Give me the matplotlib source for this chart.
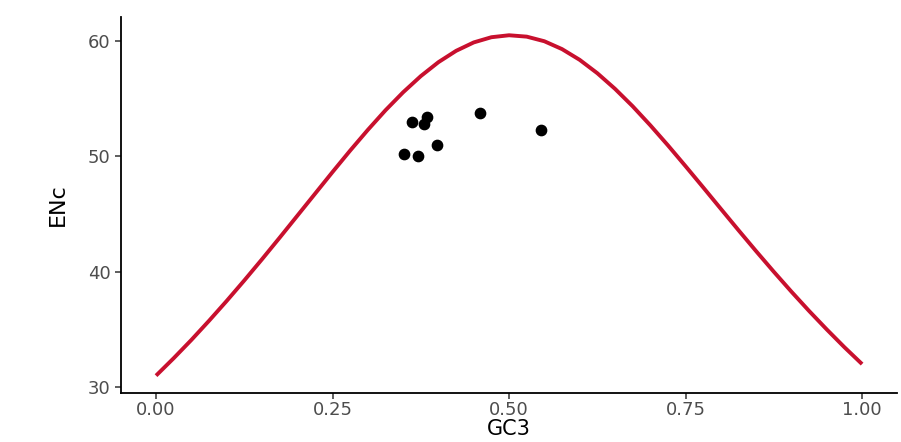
import matplotlib
matplotlib.use("Agg")
from matplotlib import pyplot as plt

# expected ENc curve, values at GC3 steps of 0.025
curve_gc3 = [0.000, 0.025, 0.050, 0.075, 0.100, 0.125, 0.150, 0.175, 0.200, 0.225,
             0.250, 0.275, 0.300, 0.325, 0.350, 0.375, 0.400, 0.425, 0.450, 0.475,
             0.500, 0.525, 0.550, 0.575, 0.600, 0.625, 0.650, 0.675, 0.700, 0.725,
             0.750, 0.775, 0.800, 0.825, 0.850, 0.875, 0.900, 0.925, 0.950, 0.975, 1.000]
curve_enc = [31.0, 32.51, 34.09, 35.75, 37.47, 39.25, 41.08, 42.95, 44.85, 46.75,
             48.65, 50.51, 52.3, 54.0, 55.56, 56.96, 58.17, 59.15, 59.88, 60.33,
             60.5, 60.38, 59.98, 59.3, 58.37, 57.21, 55.86, 54.35, 52.7, 50.96,
             49.15, 47.31, 45.45, 43.6, 41.78, 40.0, 38.27, 36.6, 35.0, 33.46, 32.0]

# observed genes
gc3 = [0.363, 0.384, 0.380, 0.459, 0.545, 0.398, 0.351, 0.371]
enc = [52.97, 53.4, 52.8, 53.75, 52.3, 51.0, 50.2, 50.06]

x_ticks = [0.00, 0.25, 0.50, 0.75, 1.00]
x_labels = ["0.00", "0.25", "0.50", "0.75", "1.00"]
y_ticks = [30, 40, 50, 60]

fig = plt.figure(figsize=(9.01, 4.42), dpi=100)
ax = fig.add_axes([0.134, 0.111, 0.862, 0.851])

ax.plot(curve_gc3, curve_enc, color="#C8102E", lw=2.8, solid_capstyle="butt",
        solid_joinstyle="round")
ax.scatter(gc3, enc, color="black", s=55, zorder=3)

ax.set_xlim(-0.05, 1.05)
ax.set_ylim(29.5, 62.1)
ax.set_xticks(x_ticks)
ax.set_xticklabels(x_labels)
ax.set_yticks(y_ticks)

for side in ["top", "right"]:
    ax.spines[side].set_visible(False)
for side in ["left", "bottom"]:
    ax.spines[side].set_linewidth(1.3)
    ax.spines[side].set_color("black")

ax.tick_params(colors="#333333", labelcolor="#4D4D4D", labelsize=13, length=4, width=1.1)
ax.tick_params(axis="x", pad=2)
ax.set_xlabel("GC3", fontsize=15, labelpad=0)
ax.set_ylabel("ENc", fontsize=16, labelpad=14)

fig.savefig("out.png", dpi=100)
